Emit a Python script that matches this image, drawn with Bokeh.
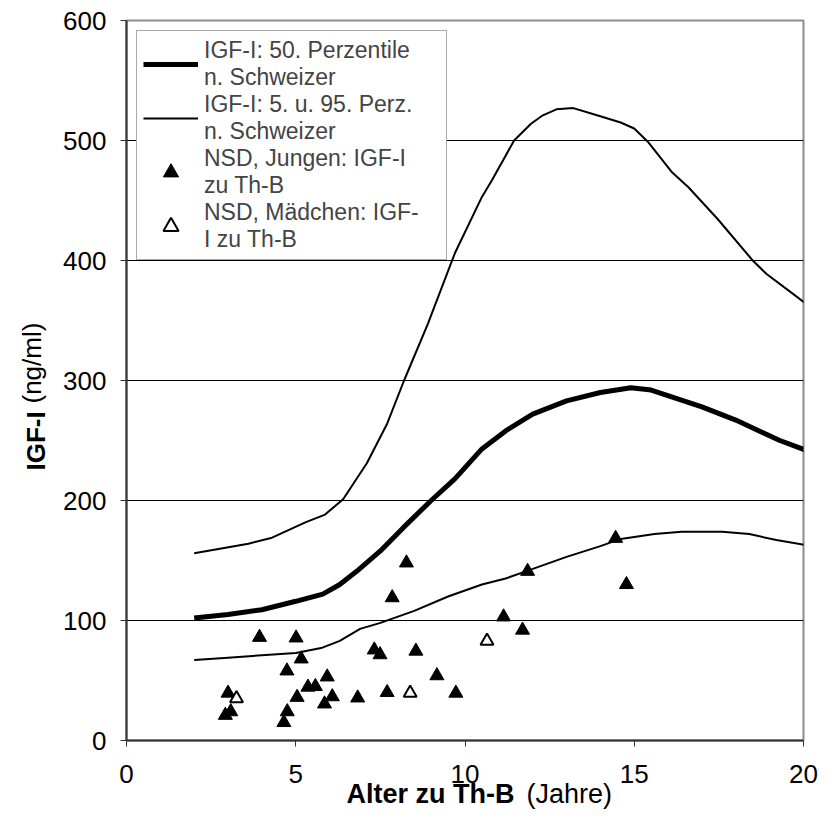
from bokeh.plotting import figure
from bokeh.models import Range1d, FixedTicker, Label, Legend, LegendItem, Title
from bokeh.embed import file_html
from bokeh.resources import INLINE

# Reference percentiles (Schweizer): age in years, IGF-I in ng/ml
p50_age = [2, 3, 4, 5, 5.8, 6.3, 6.8, 7.5, 8.2, 9, 9.7, 10.5, 11.2, 12, 13, 14, 14.9, 15.5, 17, 18, 19.3, 20.25]
p50_igf = [102, 105, 109, 116, 122, 130, 141, 158, 178, 200, 218, 243, 258, 272, 283, 290, 294, 292, 278, 267, 250, 240]

p5_age = [2, 3, 4, 5, 5.75, 6.3, 6.9, 7.5, 8.5, 9.5, 10.5, 11.2, 11.9, 13, 14, 14.6, 15.6, 16.4, 17.6, 18.4, 19.2, 20.25]
p5_igf = [67, 69, 71, 73, 77, 83, 93, 98, 108, 120, 130, 135, 142, 153, 162, 168, 172, 174, 174, 172, 167, 162]

p95_age = [2, 3.6, 4.3, 5.3, 5.85, 6.4, 7.1, 7.7, 8.2, 8.9, 9.7, 10.5, 10.8, 11.45, 11.95, 12.3, 12.7, 13.2,
           13.9, 14.6, 15.0, 15.4, 16.1, 16.6, 17.45, 18.5, 18.9, 19.7, 20.25]
p95_igf = [156, 164, 169, 182, 188, 201, 231, 264, 300, 347, 406, 453, 467, 500, 514, 521, 526, 527,
           521, 515, 510, 499, 474, 461, 435, 400, 389, 372, 360]

# NSD patients: age at Th-B and IGF-I
boys_age = [2.92, 3.08, 3.0, 3.93, 4.65, 4.75, 4.74, 5.01, 5.04, 5.16, 5.36, 5.58, 5.85, 5.93, 6.08,
            6.83, 7.32, 7.49, 7.7, 7.85, 8.27, 8.55, 9.17, 9.73, 11.14, 11.7, 11.85, 14.45, 14.77]
boys_igf = [21, 24, 39.5, 86, 15, 24, 58, 85.5, 36, 68, 44.5, 45, 30.5, 53, 36.5,
            35.5, 75.5, 71.5, 40, 119, 148, 74.5, 54, 39.5, 103, 92, 141, 168.5, 130]

girls_age = [3.25, 8.38, 10.65]
girls_igf = [35, 39.5, 83]

x_ticks = [0, 5, 10, 15, 20]
y_ticks = [0, 100, 200, 300, 400, 500, 600]
grid_ticks = [100, 200, 300, 400, 500]

FONT = "Liberation Sans"

p = figure(width=832, height=832, x_range=Range1d(0, 20), y_range=Range1d(0, 600),
           output_backend="svg", toolbar_location=None,
           min_border_left=125, min_border_right=29, min_border_top=20, min_border_bottom=92)

p.background_fill_color = "white"
p.border_fill_color = "white"
p.outline_line_color = "#8c8c8c"
p.outline_line_width = 2

p.xgrid.visible = False
p.ygrid.ticker = FixedTicker(ticks=grid_ticks)
p.ygrid.grid_line_color = "black"
p.ygrid.grid_line_width = 1

for ax in (p.xaxis[0], p.yaxis[0]):
    ax.axis_line_color = "#333333"
    ax.axis_line_width = 2
    ax.major_tick_line_color = "#333333"
    ax.major_tick_line_width = 1
    ax.major_tick_out = 6
    ax.major_tick_in = 0
    ax.minor_tick_line_color = None
    ax.major_label_text_font = FONT
    ax.major_label_text_color = "black"

p.xaxis.ticker = FixedTicker(ticks=x_ticks)
p.yaxis.ticker = FixedTicker(ticks=y_ticks)
p.xaxis.major_label_text_font_size = "26px"
p.yaxis.major_label_text_font_size = "26px"
p.xaxis.major_label_standoff = 18
p.yaxis.major_label_standoff = 14

# percentile curves
r50 = p.line(p50_age, p50_igf, line_color="black", line_width=5)
r5 = p.line(p5_age, p5_igf, line_color="black", line_width=2)
r95 = p.line(p95_age, p95_igf, line_color="black", line_width=2)

# patients
rb = p.scatter(boys_age, boys_igf, marker="triangle", size=14,
               fill_color="black", line_color="black", line_width=1)
rg = p.scatter(girls_age, girls_igf, marker="triangle", size=13,
               fill_color="white", line_color="black", line_width=2)

legend = Legend(
    items=[
        LegendItem(label="IGF-I: 50. Perzentile\nn. Schweizer", renderers=[r50]),
        LegendItem(label="IGF-I: 5. u. 95. Perz.\nn. Schweizer", renderers=[r5]),
        LegendItem(label="NSD, Jungen: IGF-I\nzu Th-B", renderers=[rb]),
        LegendItem(label="NSD, Mädchen: IGF-\nI zu Th-B", renderers=[rg]),
    ],
    location="top_left", margin=10, padding=6, spacing=0,
    glyph_width=55, glyph_height=38, label_standoff=6, label_width=236,
    label_text_font=FONT, label_text_font_size="23px",
    border_line_color="#555555", border_line_width=1.5,
    background_fill_color="white", background_fill_alpha=1.0,
)
p.add_layout(legend)


def title(text, x, y, bold, size, angle=0.0):
    # screen offsets are measured from the bottom-left corner of the side panel
    return Label(x=x, y=y, x_units="screen", y_units="screen", text=text, angle=angle,
                 text_font=FONT, text_font_size=size,
                 text_font_style="bold" if bold else "normal",
                 text_baseline="middle", text_align="left", text_color="black")


# x title: bold quantity (compact title strip under the tick labels) and plain unit beside it
p.add_layout(Title(text="Alter zu Th-B", align="left", offset=220, standoff=-16,
                   vertical_align="middle", text_font=FONT, text_font_size="27px",
                   text_font_style="bold", text_color="black"), "below")
p.add_layout(title("(Jahre)", 400, 38, False, "27px"), "below")
# y title, rotated
p.add_layout(title("IGF-I", 5, 270, True, "26px", angle=1.5707963), "left")
p.add_layout(title("(ng/ml)", 31, 337, False, "26px", angle=1.5707963), "left")

open("out.html", "w").write(file_html(p, INLINE))
